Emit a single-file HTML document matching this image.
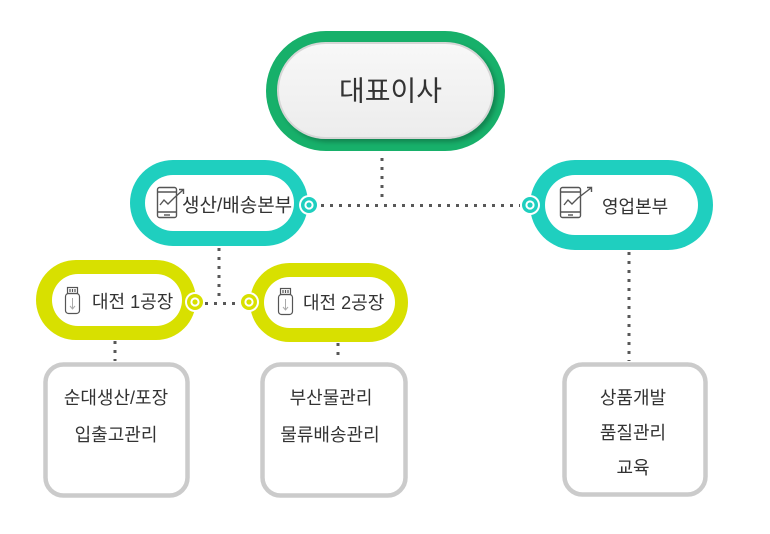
<!DOCTYPE html>
<html><head><meta charset="utf-8">
<style>
html,body{margin:0;padding:0;background:#fff;}
svg{display:block;}
text{font-family:"Liberation Sans","Noto Sans CJK KR","NanumGothic",sans-serif;fill:#333;}
</style></head>
<body>
<svg width="770" height="534" viewBox="0 0 770 534" xmlns="http://www.w3.org/2000/svg">
<defs>
<linearGradient id="gin" x1="0" y1="0" x2="0" y2="1">
<stop offset="0" stop-color="#f8f8f8"/>
<stop offset="1" stop-color="#ececec"/>
</linearGradient>
<filter id="sh" x="-10%" y="-10%" width="130%" height="140%">
<feDropShadow dx="3" dy="3" stdDeviation="2.5" flood-color="#000" flood-opacity="0.25"/>
</filter>
</defs>

<!-- dotted connectors -->
<g stroke="#585858" stroke-width="3" stroke-dasharray="3 6" fill="none">
<line x1="382" y1="158" x2="382" y2="203"/>
<line x1="321" y1="205.5" x2="520" y2="205.5"/>
<line x1="219" y1="248" x2="219" y2="300"/>
<line x1="205" y1="303.5" x2="242" y2="303.5"/>
<line x1="115" y1="341" x2="115" y2="361"/>
<line x1="338" y1="343" x2="338" y2="361"/>
<line x1="629" y1="252" x2="629" y2="361"/>
</g>

<!-- top pill -->
<rect x="266" y="31" width="239" height="120" rx="60" fill="#17b06a"/>
<rect x="278" y="43" width="215" height="95" rx="47.5" fill="url(#gin)" stroke="#d6d6d6" stroke-width="2" filter="url(#sh)"/>
<text x="339" y="91" font-size="28" dominant-baseline="central">대표이사</text>

<!-- left teal pill -->
<rect x="130" y="160" width="178" height="86" rx="43" fill="#1fcfbf"/>
<rect x="145" y="175" width="149" height="56" rx="28" fill="#fff"/>
<text x="182" y="206" font-size="19" dominant-baseline="central">생산/배송본부</text>
<g stroke="#555" stroke-width="1.4" fill="none">
<rect x="157.5" y="187.5" width="19" height="30" rx="2"/>
<line x1="158" y1="192" x2="176" y2="192"/>
<line x1="158" y1="212" x2="176" y2="212"/>
<line x1="164" y1="215" x2="170" y2="215"/>
<polyline points="160,205 164,200 168,204 174,198 183,190"/>
<polyline points="179,189.5 183.5,189.5 183.5,194"/>
</g>

<!-- right teal pill -->
<rect x="530" y="160" width="183" height="90" rx="45" fill="#1fcfbf"/>
<rect x="545" y="175" width="153" height="60" rx="30" fill="#fff"/>
<text x="602" y="207" font-size="18" dominant-baseline="central">영업본부</text>
<g stroke="#555" stroke-width="1.4" fill="none">
<rect x="560.5" y="187.5" width="20" height="30" rx="2"/>
<line x1="561" y1="192" x2="580" y2="192"/>
<line x1="561" y1="212" x2="580" y2="212"/>
<line x1="568" y1="215" x2="573" y2="215"/>
<polyline points="564,205 568,200 572,204 578,198 591,188"/>
<polyline points="587,187.5 591.5,187.5 591.5,192"/>
</g>

<!-- yellow pill 1 -->
<rect x="36" y="260" width="160" height="80" rx="40" fill="#d8e000"/>
<rect x="52" y="274" width="130" height="52" rx="26" fill="#fff"/>
<text x="92" y="302" font-size="18" dominant-baseline="central">대전 1공장</text>
<g stroke="#555" stroke-width="1.2" fill="none">
<rect x="67.5" y="287.5" width="10" height="6"/>
<line x1="70" y1="289" x2="70" y2="292"/>
<line x1="72.5" y1="289" x2="72.5" y2="292"/>
<line x1="75" y1="289" x2="75" y2="292"/>
<rect x="65.5" y="293.5" width="14" height="20" rx="3"/>
</g>
<g stroke="#aaa" stroke-width="1" fill="none">
<line x1="72.5" y1="298" x2="72.5" y2="309"/>
<polyline points="70,306 72.5,309 75,306"/>
</g>

<!-- yellow pill 2 -->
<rect x="250" y="263" width="158" height="79" rx="39.5" fill="#d8e000"/>
<rect x="264" y="277" width="131" height="51" rx="25.5" fill="#fff"/>
<text x="303" y="303" font-size="18" dominant-baseline="central">대전 2공장</text>
<g stroke="#555" stroke-width="1.2" fill="none">
<rect x="280.5" y="288.5" width="10" height="6"/>
<line x1="283" y1="290" x2="283" y2="293"/>
<line x1="285.5" y1="290" x2="285.5" y2="293"/>
<line x1="288" y1="290" x2="288" y2="293"/>
<rect x="278.5" y="294.5" width="14" height="20" rx="3"/>
</g>
<g stroke="#aaa" stroke-width="1" fill="none">
<line x1="285.5" y1="299" x2="285.5" y2="310"/>
<polyline points="283,307 285.5,310 288,307"/>
</g>

<!-- connector circles -->
<g>
<circle cx="309" cy="205" r="10" fill="#fff"/><circle cx="309" cy="205" r="8" fill="#1fcfbf"/><circle cx="309" cy="205" r="4.6" fill="#fff"/><circle cx="309" cy="205" r="2.6" fill="#1fcfbf"/>
<circle cx="530" cy="205" r="10" fill="#fff"/><circle cx="530" cy="205" r="8" fill="#1fcfbf"/><circle cx="530" cy="205" r="4.6" fill="#fff"/><circle cx="530" cy="205" r="2.6" fill="#1fcfbf"/>
<circle cx="195" cy="302" r="10" fill="#fff"/><circle cx="195" cy="302" r="8" fill="#d8e000"/><circle cx="195" cy="302" r="4.6" fill="#fff"/><circle cx="195" cy="302" r="2.6" fill="#d8e000"/>
<circle cx="249" cy="302" r="10" fill="#fff"/><circle cx="249" cy="302" r="8" fill="#d8e000"/><circle cx="249" cy="302" r="4.6" fill="#fff"/><circle cx="249" cy="302" r="2.6" fill="#d8e000"/>
</g>

<!-- gray boxes -->
<g fill="#fff" stroke="#cbcbcb" stroke-width="4.5">
<rect x="45.5" y="364.5" width="142" height="131" rx="18"/>
<rect x="262.5" y="364.5" width="143" height="131" rx="18"/>
<rect x="564.5" y="364.5" width="141" height="130" rx="18"/>
</g>
<g font-size="18" text-anchor="middle">
<text x="116" y="398" dominant-baseline="central">순대생산/포장</text>
<text x="116" y="435" dominant-baseline="central">입출고관리</text>
<text x="331" y="398" dominant-baseline="central">부산물관리</text>
<text x="330" y="435" dominant-baseline="central">물류배송관리</text>
<text x="633" y="398" dominant-baseline="central">상품개발</text>
<text x="633" y="433" dominant-baseline="central">품질관리</text>
<text x="633" y="468" dominant-baseline="central">교육</text>
</g>
</svg>
</body></html>
